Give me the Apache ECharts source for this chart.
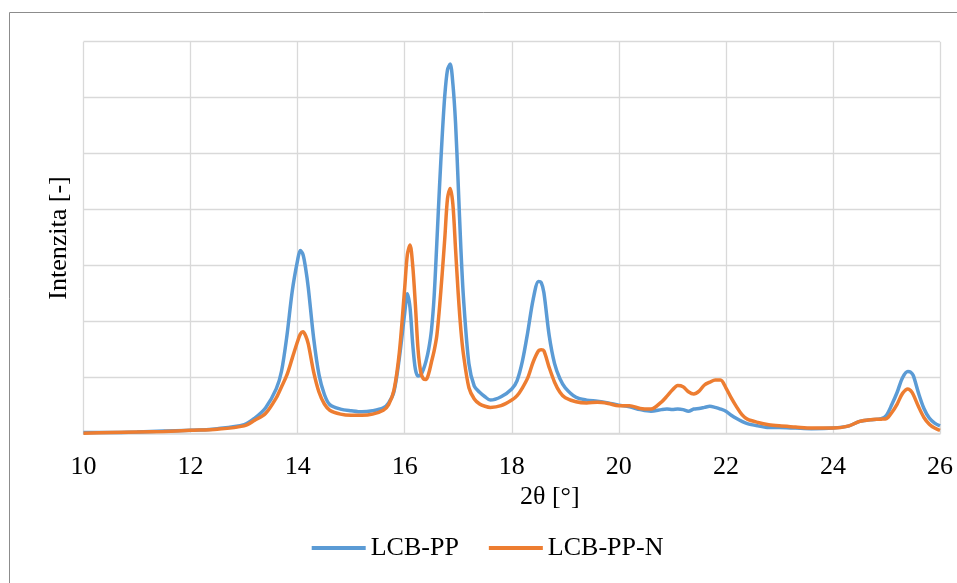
<!DOCTYPE html>
<html>
<head>
<meta charset="utf-8">
<script src="https://cdn.jsdelivr.net/npm/echarts@6/dist/echarts.min.js"></script>
<style>
  html, body { margin: 0; padding: 0; background: #ffffff; }
  #chart { width: 957px; height: 583px; }
</style>
</head>
<body>
<div id="chart"></div>
<script>
var twoTheta = [10, 10.5, 11, 11.5, 12, 12.5, 13, 13.2, 13.4, 13.6, 13.7, 13.8, 13.9, 14.0, 14.05, 14.1, 14.15, 14.2, 14.3, 14.4, 14.5, 14.6, 14.8, 15.0, 15.2, 15.4, 15.6, 15.7, 15.8, 15.9, 16.0, 16.05, 16.1, 16.15, 16.2, 16.25, 16.3, 16.35, 16.4, 16.45, 16.5, 16.55, 16.6, 16.65, 16.7, 16.75, 16.8, 16.85, 16.9, 16.95, 17.0, 17.05, 17.1, 17.2, 17.3, 17.4, 17.5, 17.6, 17.8, 18.0, 18.1, 18.2, 18.3, 18.4, 18.5, 18.55, 18.6, 18.7, 18.8, 18.9, 19.0, 19.2, 19.4, 19.6, 19.8, 20.0, 20.2, 20.4, 20.6, 20.8, 20.9, 21.0, 21.1, 21.2, 21.3, 21.4, 21.5, 21.6, 21.7, 21.8, 21.9, 22.0, 22.1, 22.2, 22.3, 22.4, 22.6, 22.8, 23.0, 23.3, 23.6, 24.0, 24.3, 24.5, 24.7, 24.9, 25.0, 25.1, 25.2, 25.3, 25.4, 25.45, 25.5, 25.6, 25.7, 25.8, 25.9, 26.0];

var lcbPP = [0.02, 0.02, 0.03, 0.05, 0.06, 0.09, 0.16, 0.28, 0.46, 0.80, 1.12, 1.75, 2.55, 3.10, 3.27, 3.20, 2.95, 2.60, 1.70, 1.05, 0.70, 0.52, 0.44, 0.41, 0.39, 0.41, 0.46, 0.55, 0.75, 1.35, 2.15, 2.50, 2.25, 1.60, 1.15, 1.03, 1.05, 1.15, 1.30, 1.52, 1.85, 2.45, 3.40, 4.40, 5.30, 6.05, 6.50, 6.60, 6.25, 5.55, 4.45, 3.30, 2.40, 1.25, 0.85, 0.74, 0.66, 0.60, 0.66, 0.80, 0.95, 1.30, 1.82, 2.40, 2.72, 2.70, 2.52, 1.75, 1.25, 0.98, 0.82, 0.65, 0.60, 0.58, 0.55, 0.51, 0.48, 0.43, 0.40, 0.43, 0.44, 0.43, 0.44, 0.43, 0.40, 0.44, 0.45, 0.47, 0.49, 0.47, 0.44, 0.40, 0.33, 0.27, 0.22, 0.18, 0.14, 0.11, 0.11, 0.10, 0.09, 0.10, 0.14, 0.22, 0.25, 0.27, 0.33, 0.52, 0.74, 1.00, 1.11, 1.10, 1.04, 0.72, 0.45, 0.28, 0.19, 0.14];

var lcbPPN = [0.01, 0.02, 0.03, 0.04, 0.06, 0.08, 0.14, 0.24, 0.36, 0.64, 0.84, 1.05, 1.35, 1.65, 1.78, 1.82, 1.75, 1.60, 1.10, 0.74, 0.53, 0.42, 0.35, 0.33, 0.33, 0.35, 0.42, 0.52, 0.78, 1.45, 2.60, 3.20, 3.37, 3.00, 2.30, 1.50, 1.10, 0.98, 0.97, 1.08, 1.28, 1.48, 1.75, 2.25, 2.85, 3.50, 4.20, 4.38, 4.10, 3.30, 2.50, 1.85, 1.40, 0.82, 0.62, 0.53, 0.49, 0.47, 0.50, 0.60, 0.68, 0.82, 1.00, 1.28, 1.48, 1.50, 1.48, 1.18, 0.92, 0.74, 0.64, 0.57, 0.55, 0.56, 0.54, 0.50, 0.50, 0.45, 0.44, 0.57, 0.67, 0.78, 0.86, 0.84, 0.75, 0.71, 0.76, 0.87, 0.92, 0.96, 0.96, 0.82, 0.64, 0.48, 0.34, 0.26, 0.20, 0.16, 0.14, 0.12, 0.10, 0.10, 0.14, 0.22, 0.25, 0.26, 0.27, 0.38, 0.53, 0.72, 0.80, 0.77, 0.70, 0.48, 0.29, 0.17, 0.10, 0.06];

var seriesNames = ['LCB-PP', 'LCB-PP-N'];
var xTicks = [10, 12, 14, 16, 18, 20, 22, 24, 26];
var xTitle = '2θ [°]';
var yTitle = 'Intenzita [-]';

function pairs(xs, ys) { return xs.map(function (x, i) { return [x, ys[i]]; }); }

var FONT = '"Liberation Serif", "Times New Roman", serif';
var chart = echarts.init(document.getElementById('chart'), null, { renderer: 'canvas' });
chart.setOption({
  animation: false,
  backgroundColor: '#ffffff',
  grid: { left: 83.5, right: 17, top: 41.7, bottom: 149.3, containLabel: false },
  graphic: [
    { type: 'rect', silent: true, z: -10,
      shape: { x: 9.5, y: 12.5, width: 1000, height: 1000 },
      style: { fill: 'none', stroke: '#8c8c8c', lineWidth: 1 } },
    { type: 'text', left: 520, top: 484,
      style: { text: xTitle, fontFamily: FONT, fontSize: 26, fill: '#000000' } },
    { type: 'text', x: 59, y: 238, rotation: Math.PI / 2,
      style: { text: yTitle, fontFamily: FONT, fontSize: 26, fill: '#000000', align: 'center', verticalAlign: 'middle' } }
  ],
  legend: {
    left: 311.7, top: 535, padding: 0,
    itemWidth: 54, itemHeight: 4, itemGap: 30,
    icon: 'rect',
    textStyle: { fontFamily: FONT, fontSize: 26, color: '#000000', padding: [0, 0, 0, 0] },
    data: seriesNames
  },
  xAxis: {
    type: 'value', min: xTicks[0], max: xTicks[xTicks.length - 1], interval: 2,
    axisLine: { show: true, onZero: false, lineStyle: { color: '#d9d9d9', width: 1.5 } },
    axisTick: { show: false },
    axisLabel: { fontFamily: FONT, fontSize: 26, color: '#000000', margin: 20 },
    splitLine: { show: true, lineStyle: { color: '#d9d9d9', width: 1.3 } }
  },
  yAxis: {
    type: 'value', min: 0, max: 7, interval: 1,
    axisLine: { show: false },
    axisTick: { show: false },
    axisLabel: { show: false },
    splitLine: { show: true, lineStyle: { color: '#d9d9d9', width: 1.3 } }
  },
  series: [
    { name: seriesNames[0], type: 'line', data: pairs(twoTheta, lcbPP),
      showSymbol: false, smooth: 0.3, color: '#5b9bd5',
      lineStyle: { width: 3.5, color: '#5b9bd5' } },
    { name: seriesNames[1], type: 'line', data: pairs(twoTheta, lcbPPN),
      showSymbol: false, smooth: 0.3, color: '#ed7d31',
      lineStyle: { width: 3.5, color: '#ed7d31' } }
  ]
});
</script>
</body>
</html>
